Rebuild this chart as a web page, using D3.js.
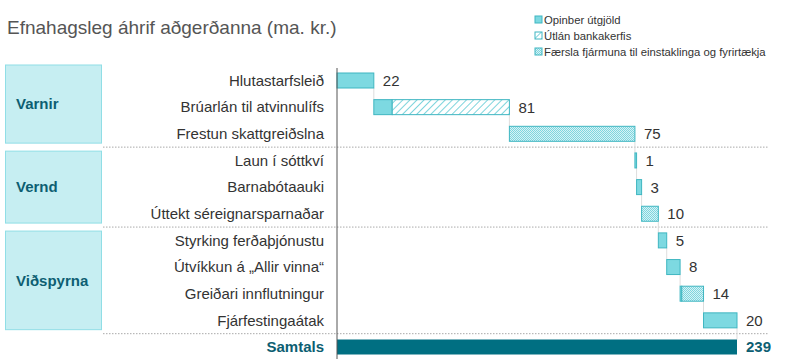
<!DOCTYPE html>
<html><head><meta charset="utf-8">
<script src="https://cdn.jsdelivr.net/npm/d3@7/dist/d3.min.js"></script>
<style>
html,body{margin:0;padding:0;background:#fff;}
text{font-family:"Liberation Sans",Arial,Helvetica,sans-serif;}
</style></head>
<body>
<svg id="c" width="800" height="359"></svg>
<script>
const title = "Efnahagsleg áhrif aðgerðanna (ma. kr.)";
const categories = ["Hlutastarfsleið","Brúarlán til atvinnulífs","Frestun skattgreiðslna","Laun í sóttkví","Barnabótaauki","Úttekt séreignarsparnaðar","Styrking ferðaþjónustu","Útvíkkun á „Allir vinna“","Greiðari innflutningur","Fjárfestingaátak"];
const groups = ["Varnir","Varnir","Varnir","Vernd","Vernd","Vernd","Viðspyrna","Viðspyrna","Viðspyrna","Viðspyrna"];
const opinber = [22,11,0,1,3,0,5,8,1,20];
const utlan   = [0,70,0,0,0,0,0,0,0,0];
const faersla = [0,0,75,0,0,10,0,0,13,0];
const totals  = [22,81,75,1,3,10,5,8,14,20];
const totalLabel = "Samtals";
const totalValue = 239;
const seriesNames = ["Opinber útgjöld","Útlán bankakerfis","Færsla fjármuna til einstaklinga og fyrirtækja"];

const svg = d3.select("#c");
const defs = svg.append("defs");
const ph = defs.append("pattern").attr("id","hatch").attr("patternUnits","userSpaceOnUse")
  .attr("width",5).attr("height",5).attr("patternTransform","rotate(45)");
ph.append("rect").attr("width",5).attr("height",5).attr("fill","#fff");
ph.append("line").attr("x1",0).attr("y1",0).attr("x2",0).attr("y2",5).attr("stroke","#5cc9d3").attr("stroke-width",1.6);
const pd = defs.append("pattern").attr("id","dots").attr("patternUnits","userSpaceOnUse")
  .attr("width",2).attr("height",2);
pd.append("rect").attr("width",2).attr("height",2).attr("fill","#d6f3f6");
pd.append("rect").attr("width",1).attr("height",1).attr("fill","#7fd5de");
pd.append("rect").attr("x",1).attr("y",1).attr("width",1).attr("height",1).attr("fill","#7fd5de");

const fills = ["#7dd9e1","url(#hatch)","url(#dots)"];
const stroke = "#3fb6c1";

const x = d3.scaleLinear().domain([0,totalValue]).range([337,737]);
const rows = categories.concat([totalLabel]);
const y = d3.scalePoint().domain(rows).range([80.5,347]);
const step = y.step();
const bh = 15;

svg.append("text").attr("x",7).attr("y",34).attr("font-size",19).attr("fill","#555").text(title);

const lg = svg.append("g");
seriesNames.forEach((s,i)=>{
  const ly = 20 + i*16;
  lg.append("rect").attr("x",535).attr("y",ly-4).attr("width",7).attr("height",7)
    .attr("fill",fills[i]).attr("stroke",stroke).attr("stroke-width",1);
  lg.append("text").attr("x",544).attr("y",ly+3.5).attr("font-size",11.3).attr("fill","#333").text(s);
});

const gnames = Array.from(new Set(groups));
gnames.forEach((g,gi)=>{
  const idx = groups.map((d,i)=>d===g?i:-1).filter(i=>i>=0);
  const first = idx[0], last = idx[idx.length-1];
  const top = gi===0 ? y(categories[first]) - 15.5 : y(categories[first]) - step/2 + 4;
  const bot = y(categories[last]) + step/2 - 4;
  svg.append("rect").attr("x",5.5).attr("y",top).attr("width",96).attr("height",bot-top)
    .attr("fill","#c6eef2").attr("stroke","#90dee6").attr("stroke-width",1);
  svg.append("text").attr("x",16).attr("y",(top+bot)/2).attr("dy","0.35em")
    .attr("font-size",15).attr("font-weight","bold").attr("fill","#0d5e72").text(g);
  const sy = y(categories[last]) + step/2;
  svg.append("line").attr("x1",103).attr("x2",768).attr("y1",sy).attr("y2",sy)
    .attr("stroke","#aaa").attr("stroke-width",1).attr("stroke-dasharray","1.5,1.5");
});

svg.selectAll("text.cat").data(categories).join("text").attr("class","cat")
  .attr("x",324).attr("y",d=>y(d)).attr("dy","0.35em").attr("text-anchor","end")
  .attr("font-size",15).attr("fill","#333").text(d=>d);

let cum = 0;
const segs = [], connectors = [], labels = [];
categories.forEach((c,i)=>{
  const start = cum;
  let s = cum;
  [opinber[i],utlan[i],faersla[i]].forEach((v,k)=>{
    if(v>0){ segs.push({c,x0:s,x1:s+v,k}); s+=v; }
  });
  cum = start + totals[i];
  labels.push({c,end:cum,v:totals[i]});
  const next = i<categories.length-1 ? categories[i+1] : totalLabel;
  connectors.push({x:cum,y0:y(c)+bh/2,y1:y(next)-bh/2});
});

svg.selectAll("line.conn").data(connectors).join("line").attr("class","conn")
  .attr("x1",d=>x(d.x)).attr("x2",d=>x(d.x)).attr("y1",d=>d.y0).attr("y2",d=>d.y1)
  .attr("stroke","#ddd").attr("stroke-width",1);

svg.selectAll("rect.seg").data(segs).join("rect").attr("class","seg")
  .attr("x",d=>x(d.x0)).attr("y",d=>y(d.c)-bh/2)
  .attr("width",d=>Math.max(x(d.x1)-x(d.x0),1)).attr("height",bh)
  .attr("fill",d=>fills[d.k]).attr("stroke",stroke).attr("stroke-width",1);

svg.selectAll("text.val").data(labels).join("text").attr("class","val")
  .attr("x",d=>x(d.end)+9).attr("y",d=>y(d.c)).attr("dy","0.36em")
  .attr("font-size",15).attr("fill","#333").text(d=>d.v);

svg.append("rect").attr("x",x(0)).attr("y",y(totalLabel)-bh/2).attr("width",x(totalValue)-x(0)).attr("height",bh)
  .attr("fill","#006f82");
svg.append("text").attr("x",324).attr("y",y(totalLabel)).attr("dy","0.35em").attr("text-anchor","end")
  .attr("font-size",15).attr("font-weight","bold").attr("fill","#0d5e72").text(totalLabel);
svg.append("text").attr("x",x(totalValue)+9).attr("y",y(totalLabel)).attr("dy","0.36em")
  .attr("font-size",15).attr("font-weight","bold").attr("fill","#0d5e72").text(totalValue);

svg.append("line").attr("x1",x(0)).attr("x2",x(0)).attr("y1",68).attr("y2",359)
  .attr("stroke","#555").attr("stroke-width",1);
</script>
</body></html>
